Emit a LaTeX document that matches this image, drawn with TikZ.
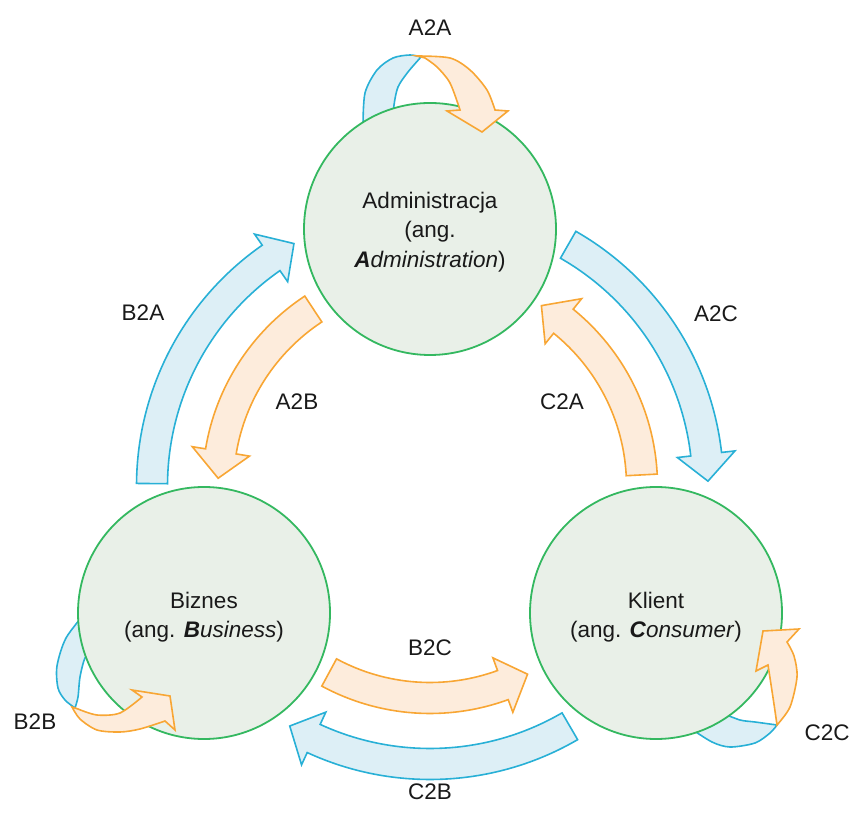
\documentclass[tikz,border=0pt]{standalone}
\usepackage{fontspec}
\setmainfont{Liberation Sans}
\definecolor{cblue}{RGB}{40,176,214}
\definecolor{cbluef}{RGB}{221,239,246}
\definecolor{corange}{RGB}{248,166,52}
\definecolor{corangef}{RGB}{253,236,220}
\definecolor{cgreen}{RGB}{52,184,96}
\definecolor{cgreenf}{RGB}{233,240,232}
\definecolor{ctext}{RGB}{25,25,25}
\def\bw{15.5}
\def\hw{29}
\def\hl{27}
\newcommand\bandarrow[4]{%
 \pgfmathsetmacro\bAs{2*(#4>#3)-1}%
 \pgfmathsetmacro\bAb{#4-\bAs*\hl/(#2)*57.29578}%
 \pgfmathsetmacro\bRo{#2+\bw}%
 \pgfmathsetmacro\bRi{#2-\bw}%
 \pgfmathsetmacro\bHo{#2+\hw}%
 \pgfmathsetmacro\bHi{#2-\hw}%
 \filldraw[#1] ([shift={(O)}]#3:\bRo pt) arc[start angle=#3, end angle=\bAb, radius=\bRo pt]
   -- ([shift={(O)}]\bAb:\bHo pt) -- ([shift={(O)}]#4:#2 pt) -- ([shift={(O)}]\bAb:\bHi pt)
   -- ([shift={(O)}]\bAb:\bRi pt) arc[start angle=\bAb, end angle=#3, radius=\bRi pt] -- cycle;
}
\tikzset{
  party/.style={circle, draw=cgreen, fill=cgreenf, line width=1.8pt, minimum size=252pt, inner sep=0pt},
  partytext/.style={align=center, text=ctext, inner sep=0pt, font=\fontsize{22.5}{29.5}\selectfont},
  lbl/.style={text=ctext, font=\fontsize{22.5}{26}\selectfont, inner sep=0pt},
  bluearr/.style={draw=cblue, fill=cbluef, line width=1.6pt, line join=miter},
  orangearr/.style={draw=corange, fill=corangef, line width=1.6pt, line join=miter},
}
\begin{document}
\begin{tikzpicture}[x=1pt, y=1pt]
\useasboundingbox (0,0) rectangle (850,816);
\coordinate (O) at (430,330);

% blue loop halves (behind circles)
\filldraw[bluearr] plot[smooth] coordinates {(363,690) (365,723) (377,746) (393,758) (410,761) (421,759)}
  -- plot[smooth] coordinates {(421,759) (408,744) (398,729) (394,711) (393,694)} -- cycle;
\filldraw[bluearr] plot[smooth] coordinates {(86,204) (66,178) (57,150) (58,128) (65,116) (75,108)}
  -- plot[smooth] coordinates {(75,108) (78,119) (80,139) (85,158) (92,163)} -- cycle;
\filldraw[bluearr] plot[smooth] coordinates {(690,88) (712,74) (730,69) (755,73) (770,83) (777,91)}
  -- plot[smooth] coordinates {(777,91) (755,94) (740,96) (722,103)} -- cycle;

% circles
\node[party] (adm) at (430,587) {};
\node[party] (biz) at (204,203) {};
\node[party] (kli) at (656,203) {};
\node[partytext] (admt) at ([yshift=-3pt]adm.center) {Administracja\\(ang.\\\textbf{\textit{A}}\textit{dministration})};
\node[partytext] (bizt) at ([yshift=-4pt]biz.center) {Biznes\\(ang. \textbf{\textit{B}}\textit{usiness})};
\node[partytext] (klit) at ([yshift=-4pt]kli.center) {Klient\\(ang. \textbf{\textit{C}}\textit{onsumer})};

% orange loop halves (in front)
\filldraw[orangearr] plot[smooth] coordinates {(417,760) (450,758) (470,746) (487,726) (495,706)}
  -- (508,705) -- (482,684) -- (447,705) -- (460,706)
  -- plot[smooth] coordinates {(460,706) (450,733) (437,749) (425,758)} -- cycle;
\filldraw[orangearr] plot[smooth] coordinates {(72,109) (80,97) (97,86) (120,84) (140,87) (165,95)}
  -- (175,86) -- (170,120) -- (132,126) -- (142,119)
  -- plot[smooth] coordinates {(142,119) (120,103) (97,101) (78,107)} -- cycle;
\filldraw[orangearr] plot[smooth] coordinates {(777,91) (790,109) (797,139) (794,160) (787,174)}
  -- (799,187) -- (763,185) -- (756,145) -- (768,151)
  -- plot[smooth] coordinates {(768,151) (772,125) (775,105) (777,91)} -- cycle;

% main block arrows
\bandarrow{bluearr}{278}{179.5}{119.3}
\bandarrow{bluearr}{278}{60.2}{1.0}
\bandarrow{bluearr}{278}{300.2}{239.7}
\bandarrow{orangearr}{212}{123.4}{177.9}
\bandarrow{orangearr}{212}{3.0}{58.3}
\bandarrow{orangearr}{212}{241.6}{297.4}

% labels
\node[lbl] (lA2A) at (430,788) {A2A};
\node[lbl] (lB2A) at (143,503) {B2A};
\node[lbl] (lA2B) at (297,414) {A2B};
\node[lbl] (lA2C) at (716,502) {A2C};
\node[lbl] (lC2A) at (562,414) {C2A};
\node[lbl] (lB2C) at (430,168) {B2C};
\node[lbl] (lC2B) at (430,24) {C2B};
\node[lbl] (lB2B) at (35,94) {B2B};
\node[lbl] (lC2C) at (827,83) {C2C};
\end{tikzpicture}
\end{document}
